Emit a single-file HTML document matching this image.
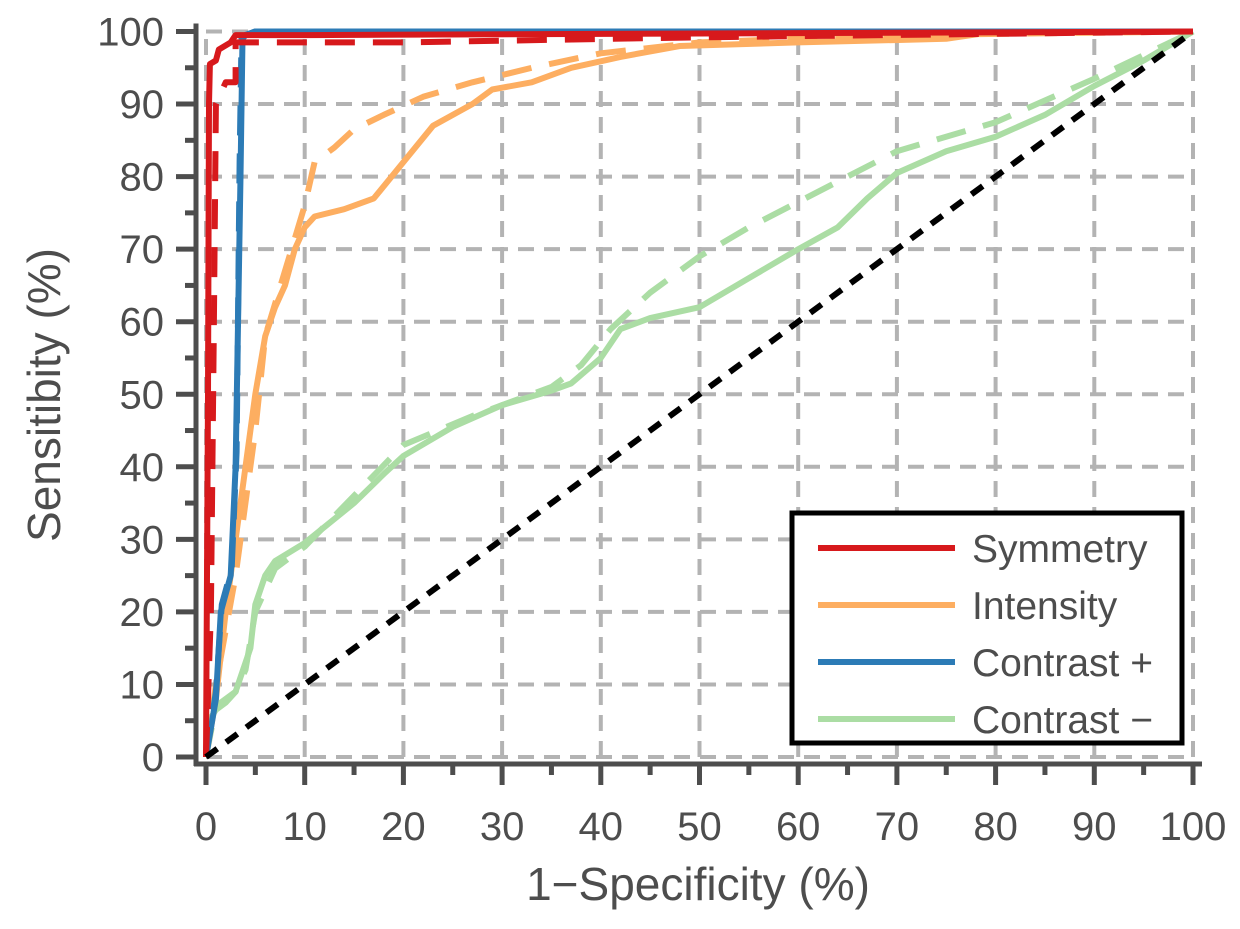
<!DOCTYPE html>
<html><head><meta charset="utf-8"><style>
body{margin:0;background:#fff}
svg text{font-family:"Liberation Sans",sans-serif;fill:#4d4d4d}
</style></head><body>
<svg id="chart" width="1240" height="924" xmlns="http://www.w3.org/2000/svg">
<g id="grid"></g>
<g id="axes"></g>
<g id="series"></g>
<g id="legend">
<rect x="792" y="513" width="390" height="230" fill="#fff" stroke="#000" stroke-width="5"/>
</g>
<text x="698" y="900" font-size="46" text-anchor="middle">1−Specificity (%)</text>
<text transform="translate(60,395) rotate(-90)" font-size="46" text-anchor="middle">Sensitibity (%)</text>
</svg>
<script>
const ticks=[0,10,20,30,40,50,60,70,80,90,100];
const seriesNames=["Symmetry","Intensity","Contrast +","Contrast −"];
const symSolidX=[0,0.2,0.3,0.4,1,1.3,2.5,3,10,100];
const symSolidY=[0,50,90,95.5,96,97.5,98.5,99.5,99.5,100];
const symDashX=[0,0.5,0.8,1,2,3,3,20,50,100];
const symDashY=[0,20,60,90,93,93,98.5,98.5,99.2,100];
const conPSolidX=[0,1,1.5,2.5,3,3.5,3.7,4,5,100];
const conPSolidY=[0,8,20,25,40,80,99,99.5,100,100];
const conPDashX=[0,1,1.6,2.6,3.1,3.4,3.6,4,5,100];
const conPDashY=[0,9,21,26,42,82,99,99.5,100,100];
const intSolidX=[0,1,2,3,4,5,6,7,8,9,10,11,14,17,20,23,27,29,33,37,42,48,60,75,80,100];
const intSolidY=[0,8,20,30,40,50,58,62,65,70,73,74.5,75.5,77,82,87,90,92,93,95,96.5,98,98.5,99,100,100];
const intDashX=[0,1,3,5,6,8,10,11,13,15,18,22,27,33,40,50,70,100];
const intDashY=[0,10,25,45,58,67,76,82,84,86.5,88.5,91,93,95,97,98.5,99.5,100];
const conMSolidX=[0,0.3,1,2,3,4.5,5,6,7,10,15,18,20,25,30,35,37,40,42,45,50,55,60,64,67,70,75,80,85,90,95,100];
const conMSolidY=[0,5,6.5,7.5,9,15,21,25,27,29.5,35,39,41.5,45.5,48.5,50.5,51.5,55,59,60.5,62,66,70,73,77,80.5,83.5,85.5,88.5,92.5,96,100];
const conMDashX=[0,1,3,4,5,7,10,15,20,27,35,38,41,45,50,55,60,65,70,80,90,100];
const conMDashY=[0,7,9,12,20,26,29,36,43,47,51,54,59,64,69,73,76.5,80,83.5,87.5,93.5,100];
const diagX=[0,100], diagY=[0,100];

const xs=v=>206+v*9.87, ys=v=>757-v*7.255;
const NS="http://www.w3.org/2000/svg";
function mk(tag,parent,attrs){const e=document.createElementNS(NS,tag);for(const k in attrs)e.setAttribute(k,attrs[k]);parent.appendChild(e);return e;}
const grid=document.getElementById('grid'),axes=document.getElementById('axes'),series=document.getElementById('series'),legend=document.getElementById('legend');
ticks.forEach(t=>{
  const g1=mk('line',grid,{x1:xs(t),x2:xs(t),y1:ys(0),y2:ys(100),stroke:'#b3b3b3','stroke-width':4,'stroke-dasharray':'16 10'});
  
  
  const g2=mk('line',grid,{x1:xs(0),x2:xs(100),y1:ys(t),y2:ys(t),stroke:'#b3b3b3','stroke-width':4,'stroke-dasharray':'16 10'});
  
  
  const tx=mk('line',axes,{x1:xs(t),x2:xs(t),y1:763,y2:785,stroke:'#4d4d4d','stroke-width':5});
  
  
  const ty=mk('line',axes,{x1:176,x2:197,y1:ys(t),y2:ys(t),stroke:'#4d4d4d','stroke-width':5});
  
  
  const lx=mk('text',axes,{x:xs(t),y:840,'font-size':40,'text-anchor':'middle'});lx.textContent=t;
  
  
  const ly=mk('text',axes,{x:164,y:ys(t)+14,'font-size':40,'text-anchor':'end'});ly.textContent=t;
  
  
  if(t<100){
    const mx=mk('line',axes,{x1:xs(t+5),x2:xs(t+5),y1:763,y2:775,stroke:'#4d4d4d','stroke-width':5});
    
    
    const my=mk('line',axes,{x1:185,x2:197,y1:ys(t+5),y2:ys(t+5),stroke:'#4d4d4d','stroke-width':5});
    
    
  }
});
const sp1=mk('line',axes,{x1:196,x2:196,y1:ys(100)-8,y2:766,stroke:'#4d4d4d','stroke-width':5});


const sp2=mk('line',axes,{x1:194,x2:1202,y1:764,y2:764,stroke:'#4d4d4d','stroke-width':5});


function line(X,Y,color,dash,name){
  const d=X.map((x,i)=>(i?'L':'M')+xs(x).toFixed(1)+','+ys(Y[i]).toFixed(1)).join('');
  const p=mk('path',series,{d:d,fill:'none',stroke:color,'stroke-width':6,'stroke-linejoin':'round'});
  if(dash)p.setAttribute('stroke-dasharray',dash);
  
  
}
const colors=['#d7191c','#fdae61','#2c7bb6','#abdda4'];
line(conMDashX,conMDashY,colors[3],'30 18','contrast-minus-dashed');
line(conMSolidX,conMSolidY,colors[3],null,'contrast-minus-line');
line(intDashX,intDashY,colors[1],'30 18','intensity-dashed');
line(intSolidX,intSolidY,colors[1],null,'intensity-line');
line(conPDashX,conPDashY,colors[2],'30 18','contrast-plus-dashed');
line(conPSolidX,conPSolidY,colors[2],null,'contrast-plus-line');
line(symDashX,symDashY,colors[0],'30 18','symmetry-dashed');
line(symSolidX,symSolidY,colors[0],null,'symmetry-line');
const dg=mk('path',series,{d:`M${xs(diagX[0])},${ys(diagY[0])}L${xs(diagX[1])},${ys(diagY[1])}`,stroke:'#000','stroke-width':6,'stroke-dasharray':'14 11',fill:'none'});


seriesNames.forEach((n,i)=>{
  const y=548+i*57;
  const l=mk('line',legend,{x1:818,x2:955,y1:y,y2:y,stroke:colors[i],'stroke-width':6});
  
  
  const t=mk('text',legend,{x:972,y:y+14,'font-size':39});t.textContent=n;
  
  
});
</script>
</body></html>
